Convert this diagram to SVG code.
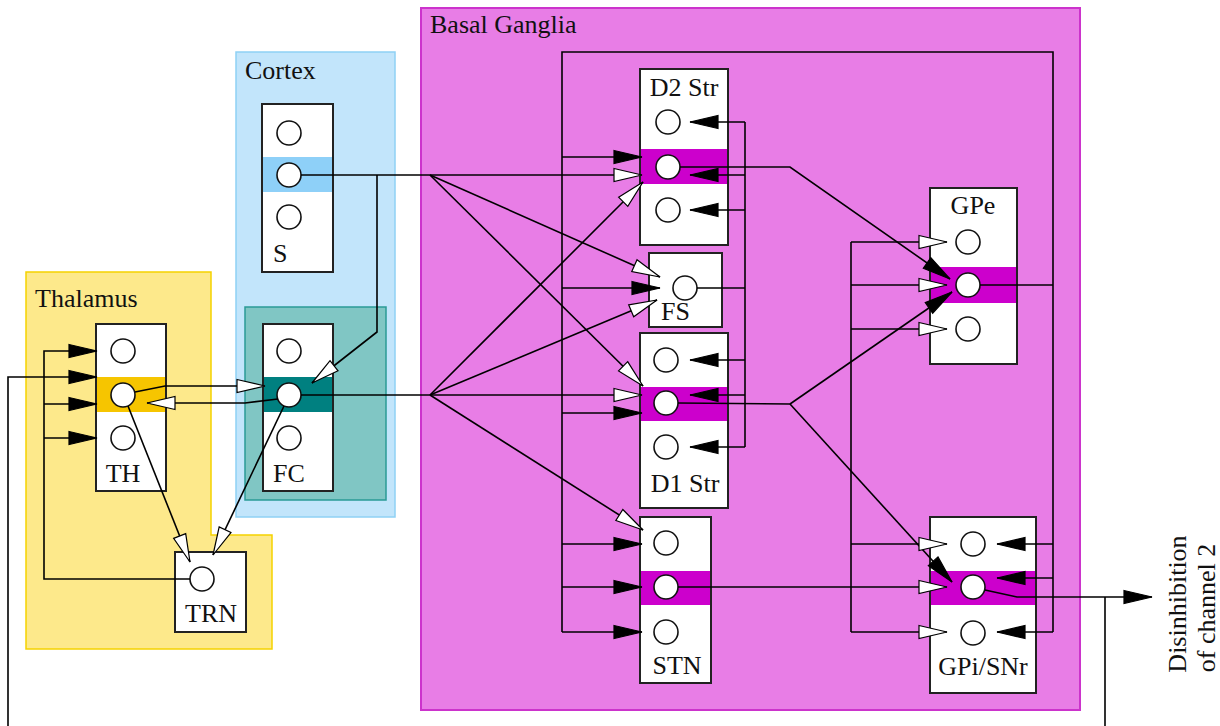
<svg xmlns="http://www.w3.org/2000/svg" width="1220" height="726" viewBox="0 0 1220 726">
<defs>
<style>
.box{fill:#fff;stroke:#222;stroke-width:2}
.cell{fill:#fff;stroke:#111;stroke-width:1.6}
.lbl{font-family:"Liberation Serif","Times New Roman",serif;font-size:26px;fill:#111}
.c{fill:none;stroke:#000;stroke-width:1.6}
.inh{marker-end:url(#ab)}
.exc{marker-end:url(#aw)}
</style>
<marker id="ab" markerUnits="userSpaceOnUse" markerWidth="32" markerHeight="16" refX="29" refY="7.5" orient="auto" overflow="visible"><path d="M1,1 L29,7.5 L1,14 Z" fill="#000" stroke="#000" stroke-width="1.2"/></marker>
<marker id="aw" markerUnits="userSpaceOnUse" markerWidth="32" markerHeight="16" refX="29" refY="7.5" orient="auto" overflow="visible"><path d="M1,1 L29,7.5 L1,14 Z" fill="#fff" stroke="#000" stroke-width="1.2"/></marker>
</defs>
<rect width="1220" height="726" fill="#fff"/>
<g id="regions">
<path id="thalamus" d="M26,272 H211 V535 H272 V649 H26 Z" fill="#fde98b" stroke="#f5d200" stroke-width="1.5"/>
<rect id="cortex" x="236" y="52" width="159" height="465" fill="#c2e5fb" stroke="#8fd1f5" stroke-width="1.5"/>
<rect id="fc-region" x="245" y="307" width="141" height="193" fill="#80c6c4" stroke="#2a9a96" stroke-width="1.5"/>
<rect id="basal-ganglia" x="421" y="8" width="659" height="702" fill="#e87de6" stroke="#cc33cc" stroke-width="2"/>
<text class="lbl" x="35" y="307">Thalamus</text>
<text class="lbl" x="245" y="79">Cortex</text>
<text class="lbl" x="430" y="33">Basal Ganglia</text>
</g>
<g id="node-S">
<rect class="box" x="262" y="104" width="71" height="168"/>
<rect x="263" y="157" width="69" height="35" fill="#8ed0f8"/>
<circle class="cell" cx="289" cy="133" r="12"/><circle class="cell" cx="289" cy="175" r="12"/><circle class="cell" cx="289" cy="217" r="12"/>
<text class="lbl" x="273" y="262">S</text>
</g>
<g id="node-TH">
<rect class="box" x="96" y="324" width="70" height="167"/>
<rect x="97" y="377" width="68" height="35" fill="#f6c500"/>
<circle class="cell" cx="123" cy="351" r="12"/><circle class="cell" cx="123" cy="395" r="12"/><circle class="cell" cx="123" cy="438" r="12"/>
<text class="lbl" x="123" y="482" text-anchor="middle">TH</text>
</g>
<g id="node-FC">
<rect class="box" x="263" y="324" width="70" height="167"/>
<rect x="264" y="377" width="68" height="35" fill="#008080"/>
<circle class="cell" cx="289" cy="351" r="12"/><circle class="cell" cx="289" cy="395" r="12"/><circle class="cell" cx="289" cy="438" r="12"/>
<text class="lbl" x="289" y="482" text-anchor="middle">FC</text>
</g>
<g id="node-TRN">
<rect class="box" x="175" y="552" width="71" height="80"/>
<circle class="cell" cx="202" cy="579" r="12"/>
<text class="lbl" x="211" y="622" text-anchor="middle">TRN</text>
</g>
<g id="node-D2Str">
<rect class="box" x="640" y="69" width="88" height="176"/>
<rect x="641" y="149" width="86" height="35" fill="#cc00cc"/>
<circle class="cell" cx="668" cy="122" r="12"/><circle class="cell" cx="668" cy="167" r="12"/><circle class="cell" cx="668" cy="210" r="12"/>
<text class="lbl" x="684" y="96" text-anchor="middle">D2 Str</text>
</g>
<g id="node-FS">
<rect class="box" x="649" y="253" width="73" height="74"/>
<circle class="cell" cx="685" cy="288" r="12"/>
<text class="lbl" x="661" y="320">FS</text>
</g>
<g id="node-D1Str">
<rect class="box" x="640" y="333" width="88" height="175"/>
<rect x="641" y="387" width="86" height="34" fill="#cc00cc"/>
<circle class="cell" cx="666" cy="360" r="12"/><circle class="cell" cx="666" cy="403" r="12"/><circle class="cell" cx="666" cy="447" r="12"/>
<text class="lbl" x="685" y="492" text-anchor="middle">D1 Str</text>
</g>
<g id="node-STN">
<rect class="box" x="640" y="517" width="71" height="166"/>
<rect x="641" y="571" width="69" height="34" fill="#cc00cc"/>
<circle class="cell" cx="666" cy="543" r="12"/><circle class="cell" cx="666" cy="587" r="12"/><circle class="cell" cx="666" cy="632" r="12"/>
<text class="lbl" x="677" y="674" text-anchor="middle">STN</text>
</g>
<g id="node-GPe">
<rect class="box" x="930" y="188" width="87" height="176"/>
<rect x="931" y="267" width="85" height="36" fill="#cc00cc"/>
<circle class="cell" cx="968" cy="242" r="12"/><circle class="cell" cx="968" cy="285" r="12"/><circle class="cell" cx="968" cy="329" r="12"/>
<text class="lbl" x="973" y="214" text-anchor="middle">GPe</text>
</g>
<g id="node-GPi">
<rect class="box" x="930" y="517" width="106" height="176"/>
<rect x="931" y="571" width="104" height="34" fill="#cc00cc"/>
<circle class="cell" cx="973" cy="544" r="12"/><circle class="cell" cx="973" cy="587" r="12"/><circle class="cell" cx="973" cy="633" r="12"/>
<text class="lbl" x="983" y="675" text-anchor="middle">GPi/SNr</text>
</g>
<g id="output-label">
<text class="lbl" transform="translate(1186,604) rotate(-90)" text-anchor="middle">Disinhibition</text>
<text class="lbl" transform="translate(1215,608) rotate(-90)" text-anchor="middle">of channel 2</text>
</g>
<g id="connectors">
<!-- thalamus / cortex -->
<path class="c inh" d="M1105,597 V740 H8 V377 H97"/>
<path class="c inh" d="M190,579 H44 V351 H97"/>
<path class="c inh" d="M44,404 H97"/>
<path class="c inh" d="M44,438 H97"/>
<path class="c exc" d="M135,392 L165,386 H265"/>
<path class="c exc" d="M278,399 L245,403 H147"/>
<path class="c exc" d="M128,406 L190,562"/>
<path class="c exc" d="M284,406 L213,555"/>
<path class="c" d="M301,175 H430"/>
<path class="c exc" d="M377,175 V332 L312,383"/>
<!-- S fan -->
<path class="c exc" d="M430,175 H642"/>
<path class="c exc" d="M430,175 L660,277"/>
<path class="c exc" d="M430,175 L643,386"/>
<!-- FC fan -->
<path class="c" d="M301,395 H430"/>
<path class="c exc" d="M430,395 L643,182"/>
<path class="c exc" d="M430,395 L657,300"/>
<path class="c exc" d="M430,395 H642"/>
<path class="c exc" d="M430,395 L643,530"/>
<!-- GPe loop -->
<path class="c" d="M980,285 H1053"/>
<path class="c" d="M1053,632 V52 H562 V632"/>
<path class="c inh" d="M562,157 H642"/>
<path class="c inh" d="M562,288 H660"/>
<path class="c inh" d="M562,413 H642"/>
<path class="c inh" d="M562,544 H642"/>
<path class="c inh" d="M562,587 H642"/>
<path class="c inh" d="M562,632 H642"/>
<path class="c inh" d="M1053,544 H997"/>
<path class="c inh" d="M1053,578 H997"/>
<path class="c inh" d="M1053,632 H997"/>
<!-- FS -->
<path class="c" d="M697,288 H745"/>
<path class="c" d="M745,122 V447"/>
<path class="c inh" d="M745,122 H690"/>
<path class="c inh" d="M745,175 H690"/>
<path class="c inh" d="M745,210 H690"/>
<path class="c inh" d="M745,360 H690"/>
<path class="c inh" d="M745,395 H690"/>
<path class="c inh" d="M745,447 H690"/>
<!-- striatum outputs -->
<path class="c inh" d="M680,167 H790 L950,279"/>
<path class="c" d="M678,403 L790,404"/>
<path class="c inh" d="M790,404 L952,292"/>
<path class="c inh" d="M790,404 L952,582"/>
<!-- STN -->
<path class="c exc" d="M678,587 H947"/>
<path class="c" d="M851,242 V632"/>
<path class="c exc" d="M851,242 H947"/>
<path class="c exc" d="M851,285 H947"/>
<path class="c exc" d="M851,329 H947"/>
<path class="c exc" d="M851,544 H947"/>
<path class="c exc" d="M851,632 H947"/>
<!-- GPi output -->
<path class="c inh" d="M985,590 L1017,597 H1152"/>
</g>
</svg>
